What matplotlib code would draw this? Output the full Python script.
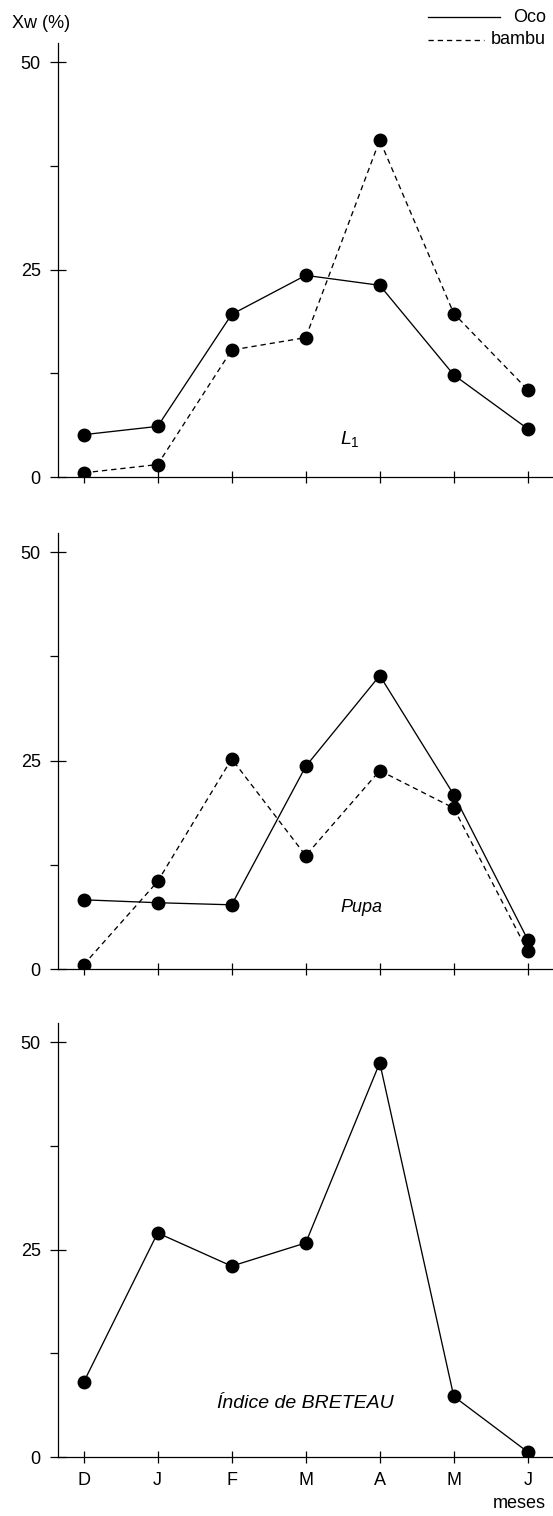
import matplotlib.pyplot as plt
from matplotlib.lines import Line2D

plt.rcParams['font.family'] = ['Liberation Sans', 'DejaVu Sans']
plt.rcParams['mathtext.fontset'] = 'custom'
plt.rcParams['mathtext.rm'] = 'Liberation Sans'
plt.rcParams['mathtext.it'] = 'Liberation Sans:italic'

# Data (Xw %, monthly, Dec -> Jun)
months = ['D', 'J', 'F', 'M', 'A', 'M', 'J']
l1_oco = [5.1, 6.1, 19.6, 24.3, 23.1, 12.3, 5.8]
l1_bambu = [0.5, 1.5, 15.3, 16.8, 40.6, 19.7, 10.5]
pupa_oco = [8.3, 7.95, 7.7, 24.3, 35.2, 20.9, 3.5]
pupa_bambu = [0.5, 10.5, 25.2, 13.6, 23.8, 19.3, 2.1]
breteau = [9.0, 27.0, 23.0, 25.8, 47.5, 7.3, 0.6]

W, H = 553, 1516
fig = plt.figure(figsize=(W / 100, H / 100), dpi=100)

x = list(range(len(months)))
dash = (0, (4, 3))
mk = dict(marker='o', markersize=9, color='black', linewidth=0.95)


def make_axes(top_px, bottom_px):
    left = 58 / W
    ax = fig.add_axes([left, 1 - bottom_px / H, 1 - left, (bottom_px - top_px) / H])
    for s in ['top', 'right']:
        ax.spines[s].set_visible(False)
    for s in ['left', 'bottom']:
        ax.spines[s].set_linewidth(0.9)
    ax.set_xlim(-0.346, 6.34)
    ax.set_ylim(0, 52.3)
    ax.set_yticks([0, 25, 50])
    ax.set_yticks([12.5, 37.5], minor=True)
    ax.set_xticks(x)
    ax.tick_params(axis='y', which='major', direction='inout', length=11,
                   width=0.9, pad=7, labelsize=13)
    ax.tick_params(axis='y', which='minor', direction='out', length=6, width=0.9)
    ax.tick_params(axis='x', direction='inout', length=9, width=0.9, pad=6,
                   labelsize=13)
    ax.set_xticklabels([])
    ax.set_facecolor('none')
    return ax


# L1 panel
ax1 = make_axes(43, 477)
ax1.plot(x, l1_oco, linestyle='-', **mk)
ax1.plot(x, l1_bambu, linestyle=dash, **mk)
ax1.text(3.6, 4.6, r'$L_{\mathit{1}}$', fontsize=14, ha='center', va='center')

# Pupa panel
ax2 = make_axes(533, 969)
ax2.plot(x, pupa_oco, linestyle='-', **mk)
ax2.plot(x, pupa_bambu, linestyle=dash, **mk)
ax2.text(3.75, 7.4, 'Pupa', fontsize=13, style='italic', ha='center', va='center')

# Breteau panel
ax3 = make_axes(1023, 1457)
ax3.plot(x, breteau, linestyle='-', **mk)
ax3.text(3.0, 6.5, 'Índice de BRETEAU', fontsize=14, style='italic',
         ha='center', va='center')
ax3.set_xticklabels(months)

# Texts around the axes
fig.text(12 / W, 1 - 24 / H, 'Xw (%)', fontsize=13, ha='left', va='center')
fig.text(546 / W, 1 - 1503 / H, 'meses', fontsize=13, ha='right', va='center')

# Legend (line keys + right-aligned names)
fig.add_artist(Line2D([428 / W, 500 / W], [1 - 17 / H, 1 - 17 / H],
                      color='black', linewidth=0.95))
fig.add_artist(Line2D([428 / W, 484 / W], [1 - 40 / H, 1 - 40 / H],
                      color='black', linewidth=0.95, linestyle=dash))
fig.text(546 / W, 1 - 17 / H, 'Oco', fontsize=13, ha='right', va='center')
fig.text(546 / W, 1 - 40 / H, 'bambu', fontsize=13, ha='right', va='center')

fig.savefig('out.png', dpi=100)
